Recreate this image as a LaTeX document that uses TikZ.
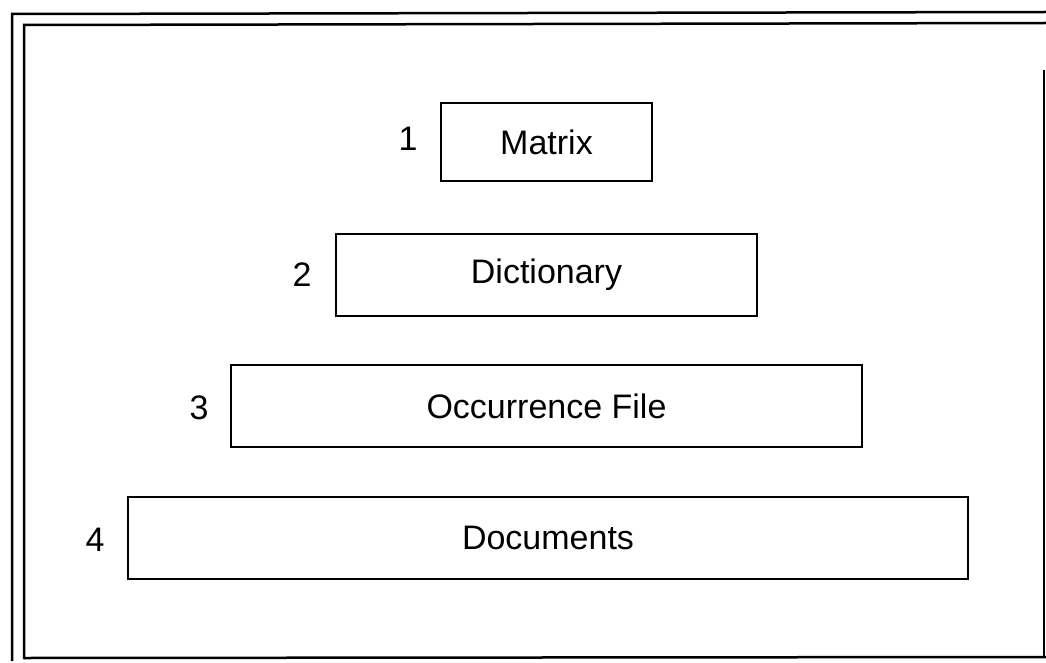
\documentclass[tikz,border=0pt]{standalone}
\usepackage{fontspec}
\setmainfont{Liberation Sans}
\usepackage{tikz}
\usetikzlibrary{positioning}

\begin{document}
\begin{tikzpicture}[x=1pt,y=-1pt,
  layer/.style={draw,line width=1.8pt,inner sep=0pt,font=\fontsize{34}{40}\selectfont},
  num/.style={font=\fontsize{34}{40}\selectfont}]
  \useasboundingbox (0,0) rectangle (1046,663);
  % double frame
  \draw[line width=2.5pt] (12,661) -- (12,14) -- (1046,12);
  \draw[line width=2.5pt] (24,659) -- (24,25) -- (1046,23);
  \draw[line width=2.5pt] (24,658) -- (1046,657);
  \draw[line width=2pt] (1044,70) -- (1044,657);
  % levels
  \node[layer,minimum width=211,minimum height=78] (matrix) at (546.5,142) {Matrix};
  \node[layer,minimum width=421,minimum height=82] (dict) at (546.5,275) {Dictionary};
  \node[layer,minimum width=631,minimum height=82] (occ) at (546.5,406) {Occurrence File};
  \node[layer,minimum width=840,minimum height=82] (docs) at (548,538) {Documents};
  % numbers
  \node[num] (n1) at (408,139) {1};
  \node[num] (n2) at (302,275) {2};
  \node[num] (n3) at (199,408) {3};
  \node[num] (n4) at (95,540) {4};
\end{tikzpicture}
\end{document}
